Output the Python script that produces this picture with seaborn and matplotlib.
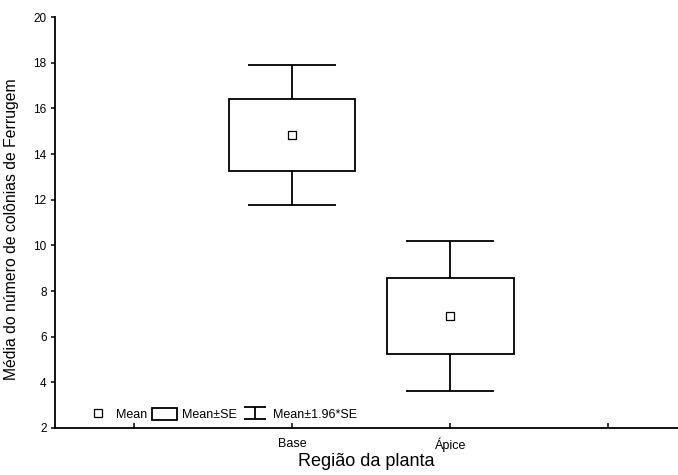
import matplotlib
matplotlib.use("Agg")
import matplotlib.pyplot as plt
import seaborn as sns
import pandas as pd
import numpy as np
from matplotlib.patches import Patch
from matplotlib.lines import Line2D

categories = ["Base", "Ápice"]
means = [14.83, 6.90]
se = [1.57, 1.67]
tick_labels = ["", "Base", "Ápice", ""]

sns.set_theme(style="ticks")
plt.rcParams["font.family"] = ["Liberation Sans", "DejaVu Sans"]
plt.rcParams["text.color"] = "black"
plt.rcParams["axes.labelcolor"] = "black"
plt.rcParams["xtick.color"] = "black"
plt.rcParams["ytick.color"] = "black"

df = pd.DataFrame({"Região": categories, "mean": means, "se": se})
df["pos"] = [1, 2]
df["ci"] = [1.96 * s for s in df["se"]]

fig = plt.figure(figsize=(6.78, 4.75), dpi=100)
ax = fig.add_axes([0.0811, 0.099, 0.919, 0.865])

lw = 1.3
ax.errorbar(df["pos"], df["mean"], yerr=df["ci"], fmt="none", ecolor="black",
            elinewidth=lw, capsize=32, capthick=lw, zorder=1)
ax.bar(df["pos"], 2 * df["se"], bottom=df["mean"] - df["se"], width=0.8,
       color="white", edgecolor="black", linewidth=lw, zorder=2)
sns.scatterplot(data=df, x="pos", y="mean", marker="s", s=30, facecolor="white",
                edgecolor="black", linewidth=0.9, zorder=3, ax=ax, legend=False)

# legend proxy for the whisker symbol (small caps)
eb_proxy = ax.errorbar([np.nan], [np.nan], yerr=[1], fmt="none", ecolor="black",
                       elinewidth=lw, capsize=8, capthick=lw)

ax.set_xlim(-0.5, 3.44)
ax.set_ylim(2, 20)
ax.set_xticks(range(len(tick_labels)))
ax.set_xticklabels(tick_labels, fontsize=9)
ax.set_yticks(range(2, 21, 2))
ax.tick_params(axis="y", labelsize=8.5, direction="out", length=3, width=1.1, pad=3,
               colors="black")
ax.tick_params(axis="x", direction="in", length=3.5, width=1.1, pad=7, colors="black")
for s in ["top", "right"]:
    ax.spines[s].set_visible(False)
for s in ["left", "bottom"]:
    ax.spines[s].set_linewidth(1.3)
    ax.spines[s].set_color("black")

ax.set_xlabel("Região da planta", fontsize=13, color="black")
ax.xaxis.set_label_coords(0.5, -0.062)
ax.set_ylabel("Média do número de colônias de Ferrugem", fontsize=11.3, color="black")
ax.yaxis.set_label_coords(-0.057, 0.485)

h_mean = Line2D([], [], marker="s", linestyle="none", markersize=5.5,
                markerfacecolor="white", markeredgecolor="black", markeredgewidth=0.9)
h_box = Patch(facecolor="white", edgecolor="black", linewidth=lw)
leg = ax.legend([h_mean, h_box, eb_proxy], ["Mean", "Mean±SE", "Mean±1.96*SE"],
                loc="center left", bbox_to_anchor=(0.049, 0.033), ncol=3, frameon=False,
                fontsize=9, handlelength=2.0, handleheight=1.2, handletextpad=0.4,
                columnspacing=0.45, borderaxespad=0, borderpad=0, labelcolor="black")

fig.savefig("out.png", dpi=100)
